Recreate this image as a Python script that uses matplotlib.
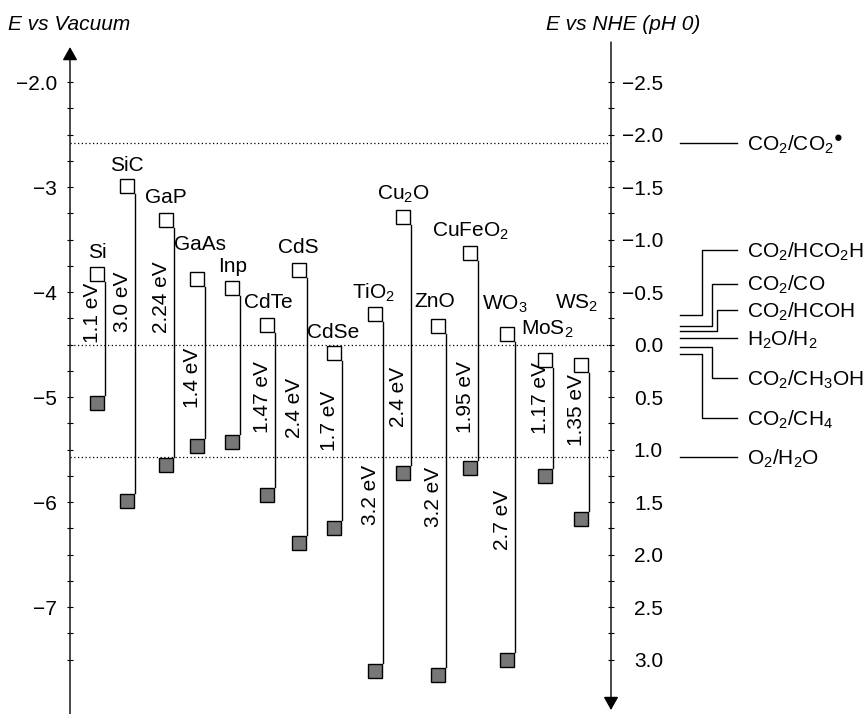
import matplotlib
matplotlib.use('Agg')
import matplotlib.pyplot as plt
from matplotlib.transforms import ScaledTranslation
from matplotlib.ticker import FixedLocator

plt.rcParams['font.family'] = ['Liberation Sans', 'DejaVu Sans']
plt.rcParams['mathtext.fontset'] = 'custom'
plt.rcParams['mathtext.rm'] = 'Liberation Sans'
plt.rcParams['mathtext.it'] = 'Liberation Sans:italic'
plt.rcParams['mathtext.bf'] = 'Liberation Sans:bold'

# ---------------- data ----------------
materials = ['Si', 'SiC', 'GaP', 'GaAs', 'Inp', 'CdTe', 'CdS', 'CdSe', 'TiO$_2$',
             'Cu$_2$O', 'ZnO', 'CuFeO$_2$', 'WO$_3$', 'MoS$_2$', 'WS$_2$']
cb_vac = [-3.90, -3.07, -3.39, -3.95, -4.04, -4.39, -3.87, -4.66, -4.29,
          -3.36, -4.40, -3.70, -4.48, -4.72, -4.77]
vb_vac = [-4.98, -5.91, -5.57, -5.39, -5.35, -5.86, -6.31, -6.17, -7.53,
          -5.65, -7.57, -5.60, -7.43, -5.68, -6.09]
gap_labels = ['1.1 eV', '3.0 eV', '2.24 eV', '1.4 eV', '', '1.47 eV', '2.4 eV', '1.7 eV',
              '3.2 eV', '2.4 eV', '3.2 eV', '1.95 eV', '2.7 eV', '1.17 eV', '1.35 eV']

redox_names = ['CO$_2$/CO$_2$$^{\u25cf}$', 'CO$_2$/HCO$_2$H', 'CO$_2$/CO', 'CO$_2$/HCOH',
               'H$_2$O/H$_2$', 'CO$_2$/CH$_3$OH', 'CO$_2$/CH$_4$', 'O$_2$/H$_2$O']
redox_nhe = [-1.92, -0.28, -0.18, -0.13, -0.06, 0.02, 0.09, 1.07]
dotted_nhe = [-1.92, 0.0, 1.07]

vac_ticks = [-2, -3, -4, -5, -6, -7]
vac_ticklabels = ['\u22122.0', '\u22123', '\u22124', '\u22125', '\u22126', '\u22127']
vac_minor = [-2.25, -2.5, -2.75, -3.25, -3.5, -3.75, -4.25, -4.5, -4.75, -5.25, -5.5,
             -5.75, -6.25, -6.5, -6.75, -7.25, -7.5]
nhe_ticks = [-2.5, -2.0, -1.5, -1.0, -0.5, 0.0, 0.5, 1.0, 1.5, 2.0, 2.5, 3.0]
nhe_ticklabels = ['\u22122.5', '\u22122.0', '\u22121.5', '\u22121.0', '\u22120.5', '0.0',
                  '0.5', '1.0', '1.5', '2.0', '2.5', '3.0']
nhe_minor = [-2.25, -1.75, -1.25, -0.75, -0.25, 0.25, 0.75, 1.25, 1.75, 2.25, 2.75]
nhe_offset = -4.5   # E_vac = -4.5 - E_NHE

# ---------------- layout ----------------
W, H, DPI = 867, 714, 100
x_pos = [105, 135, 174, 205, 240, 275, 307, 342, 383, 411, 446, 478, 515, 553, 589]
name_dx = [0, 0, 0, 3, 1, 1, -1, -1, -1, 0, -3, 0, -2, 2, -4]        # px
name_dy = [8, 7, 9, 21, 8, 9, 9, 7, 8, 9, 11, 8, 17, 17, 48]         # px above square
gap_label_y = [-4.20, -4.09, -4.05, -4.82, -5.0, -5.00, -5.10, -5.23, -5.93,
               -5.00, -5.95, -5.00, -6.17, -5.01, -5.12]
redox_label_nhe = [-1.92, -0.90, -0.58, -0.33, -0.06, 0.32, 0.70, 1.07]
redox_elbow_x = [None, 702, 712, 717, None, 712, 702, None]
FS = 15
SQ = 8  # half square, px

fig = plt.figure(figsize=(W / DPI, H / DPI), dpi=DPI)
ax = fig.add_axes([70 / W, 0, 541 / W, 672 / H])
ax.set_xlim(70, 611)
ylo, yhi = -8.019, -1.619
ax.set_ylim(ylo, yhi)

ax2 = ax.twinx()
ax2.set_ylim(nhe_offset - ylo, nhe_offset - yhi)

for a in (ax, ax2):
    for s in a.spines.values():
        s.set_visible(False)
    a.tick_params(axis='x', which='both', bottom=False, top=False,
                  labelbottom=False, labeltop=False)

ax.yaxis.set_major_locator(FixedLocator(vac_ticks))
ax.set_yticklabels(vac_ticklabels)
ax.yaxis.set_minor_locator(FixedLocator(vac_minor))
ax.tick_params(axis='y', which='both', direction='inout', length=5, width=0.8,
               labelsize=FS, pad=6.9)

ax2.yaxis.set_major_locator(FixedLocator(nhe_ticks))
ax2.set_yticklabels(nhe_ticklabels)
ax2.yaxis.set_minor_locator(FixedLocator(nhe_minor))
ax2.tick_params(axis='y', which='both', direction='inout', length=5, width=0.8,
                labelsize=FS, pad=34.9)
for lbl in ax2.get_yticklabels():
    lbl.set_horizontalalignment('right')

# axis arrows
ytrans = ax.get_yaxis_transform()
ax.annotate('', xy=(0, -1.667), xytext=(0, ylo), xycoords=ytrans, textcoords=ytrans,
            arrowprops=dict(arrowstyle='-|>,head_length=0.8,head_width=0.45',
                            mutation_scale=10, lw=1.0, color='k', shrinkA=0, shrinkB=0),
            annotation_clip=False)
ax.annotate('', xy=(1, -7.981), xytext=(1, yhi), xycoords=ytrans, textcoords=ytrans,
            arrowprops=dict(arrowstyle='-|>,head_length=0.8,head_width=0.45',
                            mutation_scale=10, lw=1.0, color='k', shrinkA=0, shrinkB=0),
            annotation_clip=False)

# dotted reference lines
for n in dotted_nhe:
    ax.axhline(nhe_offset - n, color='k', lw=0.9, ls=(0, (1, 2)), zorder=1)

# semiconductors
off_open = ax.transData + ScaledTranslation(-SQ / DPI, SQ / DPI, fig.dpi_scale_trans)
off_fill = ax.transData + ScaledTranslation(-SQ / DPI, -SQ / DPI, fig.dpi_scale_trans)
for i, name in enumerate(materials):
    x = x_pos[i]
    ax.plot([x, x], [cb_vac[i], vb_vac[i]], color='k', lw=1.0, zorder=2)
    ax.plot(x, cb_vac[i], marker='s', ms=10.5, mfc='white', mec='k', mew=1.0,
            transform=off_open, zorder=3, clip_on=False)
    ax.plot(x, vb_vac[i], marker='s', ms=10.5, mfc='#777777', mec='k', mew=1.0,
            transform=off_fill, zorder=3, clip_on=False)
    ax.annotate(name, xy=(x, cb_vac[i]),
                xytext=((-SQ + name_dx[i]) * 0.72, (2 * SQ + name_dy[i]) * 0.72),
                textcoords='offset points', ha='center', va='baseline', fontsize=FS)
    if gap_labels[i]:
        ax.annotate(gap_labels[i], xy=(x, gap_label_y[i]), xytext=(-2.0, 0),
                    textcoords='offset points', rotation=90, ha='right', va='center',
                    fontsize=FS)

# redox couples
for i, name in enumerate(redox_names):
    y0 = nhe_offset - redox_nhe[i]
    yl = nhe_offset - redox_label_nhe[i]
    ex = redox_elbow_x[i]
    if ex is None:
        xs, ys = [680, 737], [y0, y0]
    else:
        xs, ys = [680, ex, ex, 737], [y0, y0, yl, yl]
    ax.plot(xs, ys, color='k', lw=1.0, clip_on=False)
    ax.annotate(name, xy=(747, yl), xytext=(0, -5.4), textcoords='offset points',
                ha='left', va='baseline', fontsize=FS, annotation_clip=False)

fig.text(8 / W, 1 - 30 / H, 'E vs Vacuum', style='italic', fontsize=FS,
         ha='left', va='baseline')
fig.text(700 / W, 1 - 30 / H, 'E vs NHE (pH 0)', style='italic', fontsize=FS,
         ha='right', va='baseline')

fig.savefig('out.png', dpi=DPI)
